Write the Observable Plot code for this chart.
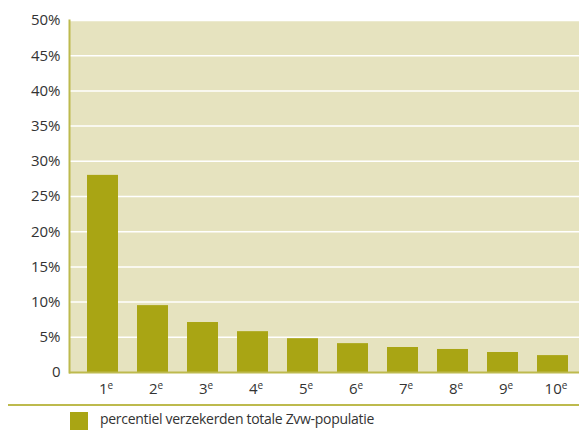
<!DOCTYPE html>
<html>
<head>
<meta charset="utf-8">
<script src="https://cdn.jsdelivr.net/npm/d3@7"></script>
<script src="https://cdn.jsdelivr.net/npm/@observablehq/plot@0.6"></script>
<style>
  body { margin: 0; background: #fff; font-family: "Open Sans", sans-serif; }
  #chart svg { display: block; }
  .legend {
    margin-left: 8px;
    border-top: 2px solid #bdba4e;
    height: 24px;
    position: relative;
    font-size: 14px;
    letter-spacing: -0.3px;
    color: #333;
  }
  .legend .swatch {
    position: absolute; left: 62px; top: 6px;
    width: 18px; height: 18px; background: #a9a514;
  }
  .legend .label { position: absolute; left: 92px; top: 3px; white-space: nowrap; }
</style>
</head>
<body>
<div id="chart"></div>
<div class="legend"><span class="swatch"></span><span class="label">percentiel verzekerden totale Zvw-populatie</span></div>
<script>
// Percentiles (1st .. 10th) and their share of total costs
const percentiles = ["1", "2", "3", "4", "5", "6", "7", "8", "9", "10"];
const ordinalSuffix = "e";
const shares = [0.280, 0.095, 0.071, 0.058, 0.048, 0.041, 0.0355, 0.0327, 0.0284, 0.024];
const yTicks = [0, 0.05, 0.10, 0.15, 0.20, 0.25, 0.30, 0.35, 0.40, 0.45, 0.50];

const data = percentiles.map((p, i) => ({percentile: p, share: shares[i]}));

const olive = "#a9a514";
const axisOlive = "#bdba4e";
const textColor = "#333";

const chart = Plot.plot({
  width: 579,
  height: 404,
  marginTop: 20,
  marginBottom: 32,
  marginLeft: 69,
  marginRight: 0,
  style: {fontFamily: "'Open Sans', sans-serif", fontSize: "15px", color: textColor},
  x: {
    domain: percentiles,
    range: [77.5, 577.5],
    paddingInner: 0.38,
    paddingOuter: 0.19,
    label: null
  },
  y: {domain: [0, 0.5], label: null},
  marks: [
    Plot.frame({fill: "#e6e3bf", stroke: null}),
    Plot.ruleY(yTicks.filter(d => d > 0), {stroke: "#fff", strokeWidth: 1.5}),
    Plot.barY(data, {x: "percentile", y: "share", fill: olive}),
    Plot.frame({anchor: "left", stroke: axisOlive, strokeWidth: 2}),
    Plot.ruleY([0], {stroke: axisOlive, strokeWidth: 2}),
    Plot.axisY({
      ticks: yTicks,
      tickSize: 0,
      tickPadding: 9,
      fontSize: 15,
      fill: textColor,
      tickFormat: d => d === 0 ? "0" : Math.round(d * 100) + "%"
    }),
    Plot.axisX({tickSize: 0, tickPadding: 11, fontSize: 15, fill: textColor, tickFormat: d => d})
  ]
});

document.getElementById("chart").append(chart);

// Add the superscript ordinal suffix to each percentile label
d3.select(chart).selectAll("[aria-label='x-axis tick label'] text").each(function () {
  const t = d3.select(this);
  t.attr("dx", "0.2em");
  t.append("tspan")
    .attr("font-size", "10px")
    .attr("dy", "-0.5em")
    .text(ordinalSuffix);
});
</script>
</body>
</html>
